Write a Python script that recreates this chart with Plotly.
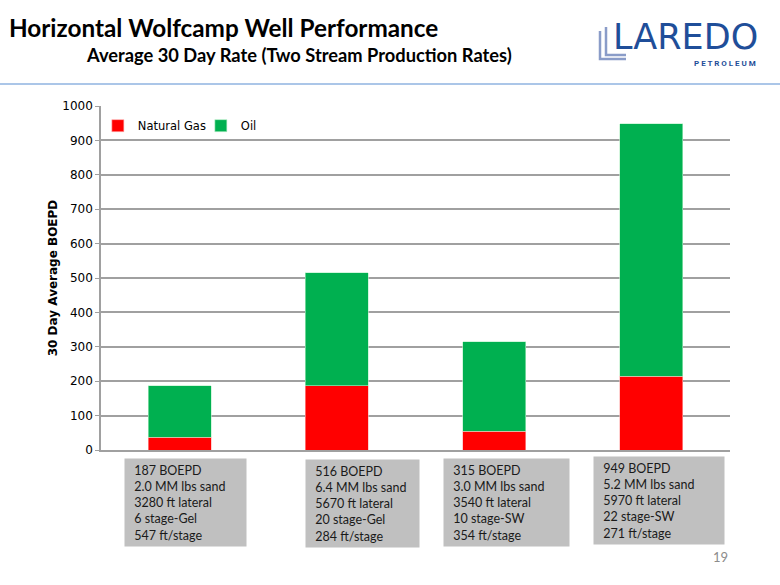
import plotly.graph_objects as go

# ---- data ----
wells = ["Well 1", "Well 2", "Well 3", "Well 4"]
natural_gas = [37, 187, 54, 215]
oil = [150, 329, 261, 734]
series_names = ["Natural Gas", "Oil"]
y_ticks = [0, 100, 200, 300, 400, 500, 600, 700, 800, 900, 1000]
well_notes = [
    ["187 BOEPD", "2.0 MM lbs sand", "3280 ft lateral", "6 stage-Gel", "547 ft/stage"],
    ["516 BOEPD", "6.4 MM lbs sand", "5670 ft lateral", "20 stage-Gel", "284 ft/stage"],
    ["315 BOEPD", "3.0 MM lbs sand", "3540 ft lateral", "10 stage-SW", "354 ft/stage"],
    ["949 BOEPD", "5.2 MM lbs sand", "5970 ft lateral", "22 stage-SW", "271 ft/stage"],
]
title_text = "Horizontal Wolfcamp Well Performance"
subtitle_text = "Average 30 Day Rate (Two Stream Production Rates)"
y_title = "30 Day Average BOEPD"

# ---- layout geometry (pixels) ----
W, H = 780, 585
L, R, T, B = 101, 730, 106, 450


def px(x):
    return (x - L) / (R - L)


def py(y):
    return (B - y) / (B - T)


RED = "#FF0000"
GREEN = "#00B050"
BLUE = "#1F4E99"
LIGHT_BLUE = "#8A9CC8"

fig = go.Figure()
fig.add_trace(go.Bar(x=wells, y=natural_gas, name=series_names[0],
                     marker=dict(color=RED, line=dict(color="#FFB0B0", width=0.6))))
fig.add_trace(go.Bar(x=wells, y=oil, name=series_names[1],
                     marker=dict(color=GREEN, line=dict(color="#B8F0C8", width=0.6))))

annotations = []
shapes = []

# title
annotations.append(dict(text="<b>" + title_text + "</b>", x=px(7), y=py(27), xref="paper", yref="paper",
                        xanchor="left", yanchor="middle", showarrow=False,
                        font=dict(family="Lato", size=24.3, color="#000000")))
annotations.append(dict(text="<b>" + subtitle_text + "</b>", x=px(84), y=py(55), xref="paper", yref="paper",
                        xanchor="left", yanchor="middle", showarrow=False,
                        font=dict(family="Lato", size=18.3, color="#000000")))
# separator line
shapes.append(dict(type="line", xref="paper", yref="paper", x0=px(0), x1=px(780), y0=py(84), y1=py(84),
                   line=dict(color="#8FB3E0", width=1.5)))

# logo: brackets behind the L of LAREDO
for (x0, y0, x1, y1, c, w) in [
    (600, 31, 626, 59, LIGHT_BLUE, 2.5),
    (606, 27, 626, 55, LIGHT_BLUE, 2.5),
]:
    shapes.append(dict(type="path", xref="paper", yref="paper",
                       path=f"M {px(x0)} {py(y0)} L {px(x0)} {py(y1)} L {px(x1)} {py(y1)}",
                       line=dict(color=c, width=w)))
annotations.append(dict(text="LAREDO", x=px(611), y=py(37), xref="paper", yref="paper",
                        xanchor="left", yanchor="middle", showarrow=False,
                        font=dict(family="DejaVu Sans", size=35, color=BLUE)))
annotations.append(dict(text="<b>P E T R O L E U M</b>", x=px(758), y=py(63), xref="paper", yref="paper",
                        xanchor="right", yanchor="middle", showarrow=False,
                        font=dict(family="Roboto", size=8, color=BLUE)))

# note boxes
box_left = [124, 305, 443, 593]
box_top = [458, 459, 458, 456]
box_w = [121, 113, 125, 130]
pad = 3
for i, lines in enumerate(well_notes):
    annotations.append(dict(text="<br>".join("\u2002" + s for s in lines), x=px(box_left[i]), y=py(box_top[i]),
                            xref="paper", yref="paper", xanchor="left", yanchor="top",
                            showarrow=False, align="left", valign="middle",
                            width=box_w[i] - 2 * pad, height=87 - 2 * pad, borderpad=pad,
                            bgcolor="#C0C0C0",
                            font=dict(family="Lato", size=12.5, color="#1a1a1a")))

# page number
annotations.append(dict(text="19", x=px(720), y=py(557), xref="paper", yref="paper",
                        xanchor="center", yanchor="middle", showarrow=False,
                        font=dict(family="Lato", size=13, color="#8C8C8C")))

fig.update_layout(
    width=W, height=H,
    margin=dict(l=L, r=W - R, t=T, b=H - B, pad=0),
    barmode="stack", bargap=0.6,
    paper_bgcolor="white", plot_bgcolor="white",
    showlegend=True,
    legend=dict(orientation="h", x=-0.005, y=0.985, xanchor="left", yanchor="top",
                font=dict(family="DejaVu Sans", size=11.5, color="#000000"),
                bgcolor="rgba(0,0,0,0)", itemwidth=30, entrywidth=58, traceorder="normal"),
    xaxis=dict(showticklabels=False, showgrid=False, showline=True,
               linecolor="#A0A0A0", linewidth=1.5, ticks=""),
    yaxis=dict(range=[0, 1000], tickvals=y_ticks, showgrid=True, gridcolor="#A0A0A0", gridwidth=1.5,
               showline=True, linecolor="#A0A0A0", linewidth=1.5, ticks="outside", ticklen=4,
               tickcolor="#A0A0A0", zeroline=False,
               tickfont=dict(family="DejaVu Sans", size=12, color="#000000"),
               title=dict(text="<b>" + y_title + "</b>", standoff=2,
                          font=dict(family="DejaVu Sans", size=12, color="#000000"))),
    annotations=annotations, shapes=shapes,
)

fig.write_html("out.html", config={"displayModeBar": False},
               post_script="document.body.style.margin='0';document.body.style.padding='0';")
